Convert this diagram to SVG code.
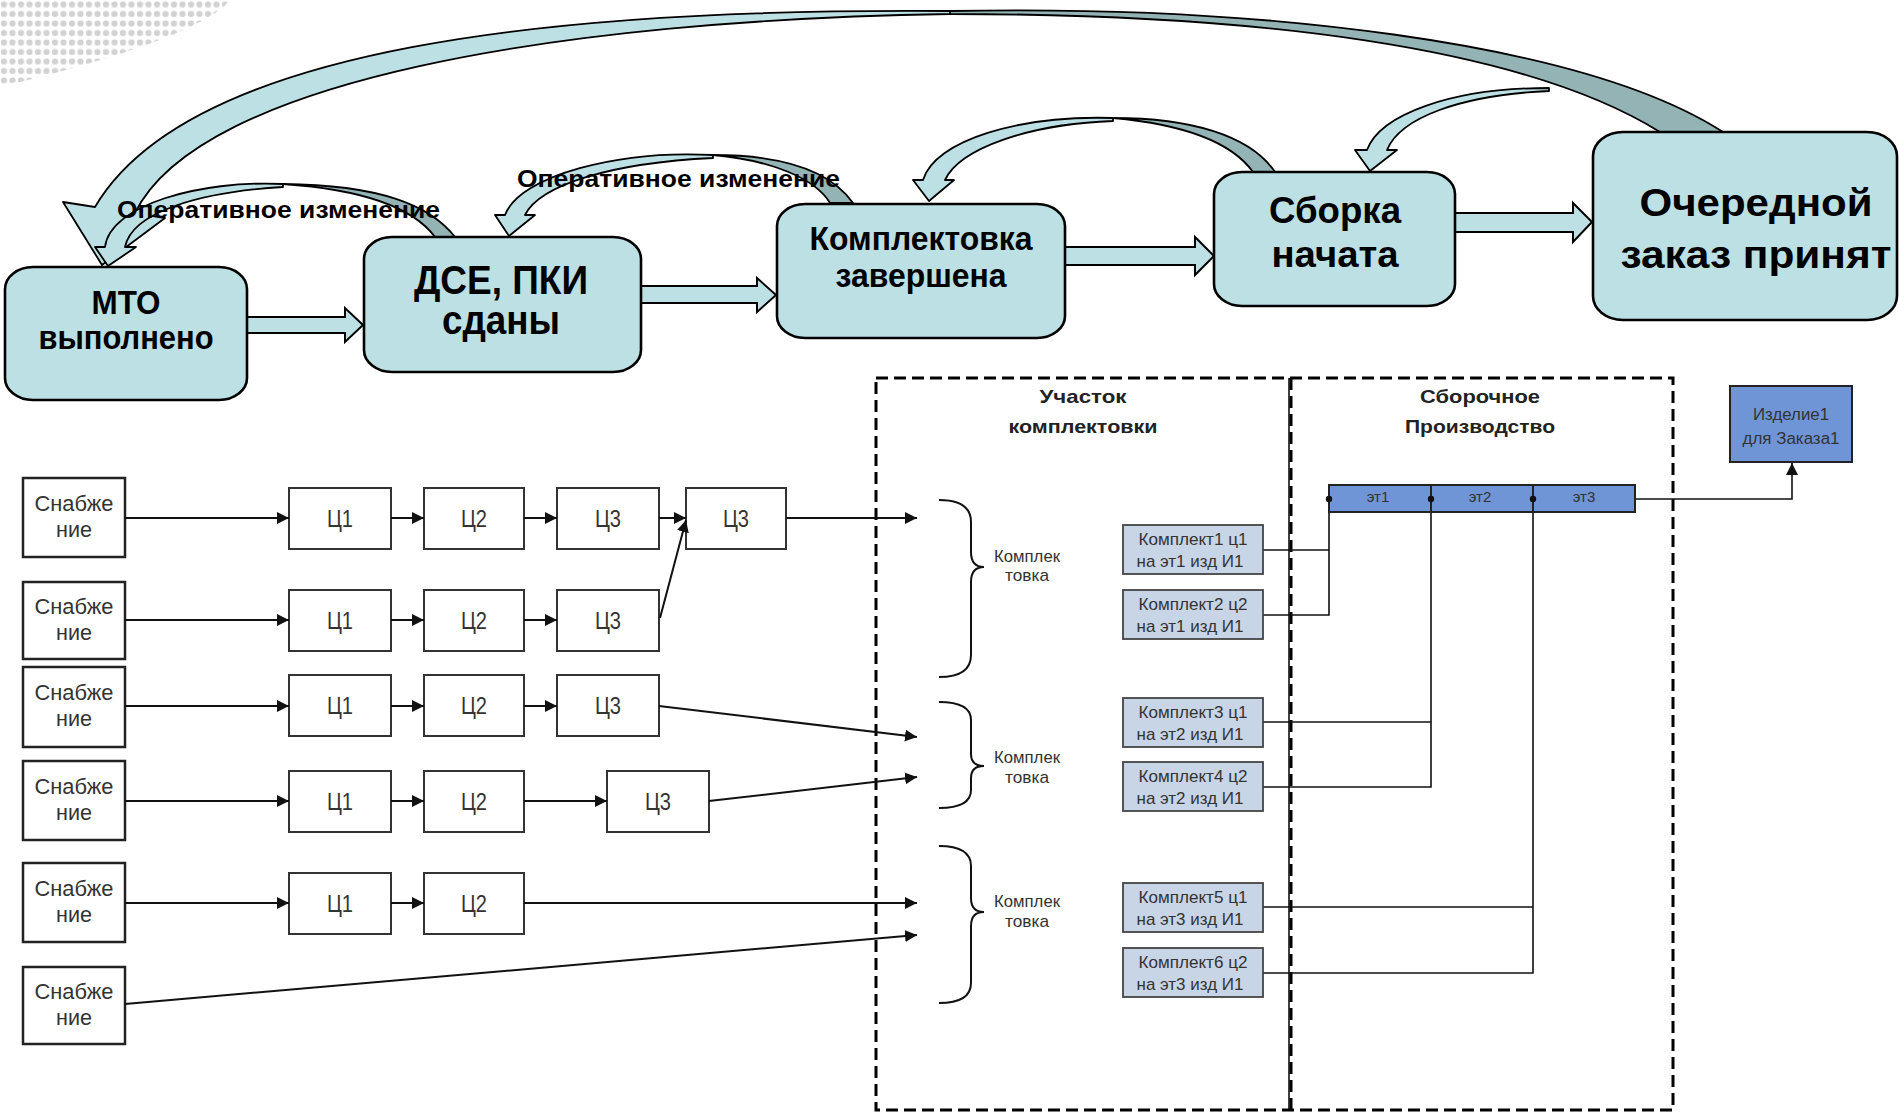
<svg xmlns="http://www.w3.org/2000/svg" width="1899" height="1117" viewBox="0 0 1899 1117">
<defs>
<style>
.node{fill:#bce0e4;stroke:#000;stroke-width:2.6}
.barr{fill:#bce0e4;stroke:#000;stroke-width:2}
.carr{fill:#bce0e4;stroke:#000;stroke-width:1.8;stroke-linejoin:round}
.cdark{fill:#93b3b4;stroke:#000;stroke-width:1.8;stroke-linejoin:round}
.big{font-family:"Liberation Sans",Arial,sans-serif;font-weight:bold;fill:#000;text-anchor:middle}
.lbl{font-family:"Liberation Sans",Arial,sans-serif;font-weight:bold;font-size:24px;fill:#000}
.sbox{fill:#fff;stroke:#222;stroke-width:2.5}
.cbox{fill:#fff;stroke:#333;stroke-width:2}
.sm{font-family:"Liberation Sans",Arial,sans-serif;fill:#333;text-anchor:middle}
.kbox{fill:#c8d5e7;stroke:#444;stroke-width:1.8}
.blue{fill:#6f95d6;stroke:#222;stroke-width:2}
.ln{fill:none;stroke:#111;stroke-width:2}
.ln2{fill:none;stroke:#111;stroke-width:1.6}
.dash{fill:none;stroke:#000;stroke-width:3;stroke-dasharray:12 6}
.hdr{font-family:"Liberation Sans",Arial,sans-serif;font-weight:bold;font-size:19px;fill:#222;text-anchor:middle}
</style>
<marker id="ah" viewBox="0 0 10 10" refX="10" refY="5" markerWidth="12" markerHeight="12" markerUnits="userSpaceOnUse" orient="auto"><path d="M0,0 L10,5 L0,10 z" fill="#111"/></marker>
<pattern id="dots" width="8.5" height="9.5" patternUnits="userSpaceOnUse"><circle cx="4" cy="4.5" r="3.1" fill="#d2d2d2"/></pattern>
</defs>
<rect width="1899" height="1117" fill="#fff"/>
<path d="M0,0 L230,0 C215,20 150,50 20,82 L0,84 Z" fill="url(#dots)"/>

<g id="curved-connectors">
<g id="arrow-zakaz-sborka"><path class="carr" d="M1549,88 C1450,88 1380,115 1367,150 L1355,150 L1370,171 L1397,150 L1387,150 C1400,118 1460,95 1549,91 Z"/></g>
<g id="arrow-zakaz-mto">
<path class="cdark" d="M950,11 C1250,5 1580,40 1723,132 L1660,132 C1520,45 1250,14 950,14 Z"/>
<path class="carr" d="M950,11 C560,8 190,45 95,207 L63,202 L102,265 L165,218 L135,213 C200,80 560,20 950,14 Z"/>
</g>
<g id="arrow-sborka-kompl">
<path class="cdark" d="M1275,172 C1250,135 1190,118 1113,118 C1180,124 1230,140 1253,172 Z"/>
<path class="carr" d="M1113,118 C1020,115 935,140 923,180 L913,180 L929,201 L954,180 L945,180 C960,148 1030,124 1113,121 Z"/>
</g>
<g id="arrow-kompl-dse">
<path class="cdark" d="M853,203 C830,170 780,155 713,155 C770,160 815,178 830,203 Z"/>
<path class="carr" d="M713,155 C620,150 520,175 505,215 L495,215 L509,236 L535,215 L525,215 C540,185 610,163 713,158 Z"/>
</g>
<g id="arrow-dse-mto">
<path class="cdark" d="M455,237 C430,205 380,185 283,184 C370,190 415,210 435,237 Z"/>
<path class="carr" d="M283,184 C200,180 110,205 105,247 L95,247 L108,266 L136,247 L125,247 C132,212 200,192 283,187 Z"/>
</g>
</g>

<g id="block-connectors">
<polygon class="barr" points="247,317 345,317 345,308 363,325 345,342 345,333 247,333"/>
<polygon class="barr" points="641,286 757,286 757,278 776,295 757,312 757,303 641,303"/>
<polygon class="barr" points="1065,247 1195,247 1195,237 1214,256 1195,275 1195,265 1065,265"/>
<polygon class="barr" points="1455,213 1573,213 1573,203 1592,222 1573,242 1573,232 1455,232"/>
</g>

<g id="node-mto"><rect class="node" x="5" y="267" width="242" height="133" rx="28" ry="22"/>
<text class="big" x="126" y="314" font-size="34" textLength="69" lengthAdjust="spacingAndGlyphs">МТО</text>
<text class="big" x="126" y="349" font-size="34" textLength="175" lengthAdjust="spacingAndGlyphs">выполнено</text></g>
<g id="node-dse"><rect class="node" x="364" y="237" width="277" height="135" rx="28" ry="22"/>
<text class="big" x="501" y="294" font-size="40" textLength="174" lengthAdjust="spacingAndGlyphs">ДСЕ, ПКИ</text>
<text class="big" x="501" y="334" font-size="40" textLength="118" lengthAdjust="spacingAndGlyphs">сданы</text></g>
<g id="node-kompl"><rect class="node" x="777" y="204" width="288" height="134" rx="28" ry="22"/>
<text class="big" x="921" y="250" font-size="33" textLength="223" lengthAdjust="spacingAndGlyphs">Комплектовка</text>
<text class="big" x="921" y="287" font-size="33" textLength="171" lengthAdjust="spacingAndGlyphs">завершена</text></g>
<g id="node-sborka"><rect class="node" x="1214" y="172" width="241" height="134" rx="28" ry="22"/>
<text class="big" x="1335" y="223" font-size="36" textLength="132" lengthAdjust="spacingAndGlyphs">Сборка</text>
<text class="big" x="1335" y="267" font-size="36" textLength="127" lengthAdjust="spacingAndGlyphs">начата</text></g>
<g id="node-zakaz"><rect class="node" x="1593" y="132" width="304" height="188" rx="30" ry="24"/>
<text class="big" x="1756" y="216" font-size="38" textLength="233" lengthAdjust="spacingAndGlyphs">Очередной</text>
<text class="big" x="1756" y="268" font-size="38" textLength="271" lengthAdjust="spacingAndGlyphs">заказ принят</text></g>

<g id="labels">
<text class="lbl" x="117" y="218" textLength="323" lengthAdjust="spacingAndGlyphs">Оперативное изменение</text>
<text class="lbl" x="517" y="187" textLength="323" lengthAdjust="spacingAndGlyphs">Оперативное изменение</text>
</g>

<g id="frame">
<rect class="dash" x="876" y="378" width="797" height="732"/>
<line x1="1289" y1="378" x2="1289" y2="1110" stroke="#000" stroke-width="1.5"/>
<line class="dash" x1="1291" y1="378" x2="1291" y2="1110"/>
<text class="hdr" x="1083" y="403" textLength="87" lengthAdjust="spacingAndGlyphs">Участок</text>
<text class="hdr" x="1083" y="433" textLength="149" lengthAdjust="spacingAndGlyphs">комплектовки</text>
<text class="hdr" x="1480" y="403" textLength="120" lengthAdjust="spacingAndGlyphs">Сборочное</text>
<text class="hdr" x="1480" y="433" textLength="150" lengthAdjust="spacingAndGlyphs">Производство</text>
</g>

<g id="supply-nodes">
<g id="snab1"><rect class="sbox" x="23" y="478" width="102" height="79"/><text class="sm" x="74" y="511" font-size="22" textLength="79" lengthAdjust="spacingAndGlyphs">Снабже</text><text class="sm" x="74" y="537" font-size="22" textLength="36" lengthAdjust="spacingAndGlyphs">ние</text></g>
<g id="snab2"><rect class="sbox" x="23" y="582" width="102" height="77"/><text class="sm" x="74" y="614" font-size="22" textLength="79" lengthAdjust="spacingAndGlyphs">Снабже</text><text class="sm" x="74" y="640" font-size="22" textLength="36" lengthAdjust="spacingAndGlyphs">ние</text></g>
<g id="snab3"><rect class="sbox" x="23" y="667" width="102" height="80"/><text class="sm" x="74" y="700" font-size="22" textLength="79" lengthAdjust="spacingAndGlyphs">Снабже</text><text class="sm" x="74" y="726" font-size="22" textLength="36" lengthAdjust="spacingAndGlyphs">ние</text></g>
<g id="snab4"><rect class="sbox" x="23" y="761" width="102" height="79"/><text class="sm" x="74" y="794" font-size="22" textLength="79" lengthAdjust="spacingAndGlyphs">Снабже</text><text class="sm" x="74" y="820" font-size="22" textLength="36" lengthAdjust="spacingAndGlyphs">ние</text></g>
<g id="snab5"><rect class="sbox" x="23" y="863" width="102" height="79"/><text class="sm" x="74" y="896" font-size="22" textLength="79" lengthAdjust="spacingAndGlyphs">Снабже</text><text class="sm" x="74" y="922" font-size="22" textLength="36" lengthAdjust="spacingAndGlyphs">ние</text></g>
<g id="snab6"><rect class="sbox" x="23" y="967" width="102" height="77"/><text class="sm" x="74" y="999" font-size="22" textLength="79" lengthAdjust="spacingAndGlyphs">Снабже</text><text class="sm" x="74" y="1025" font-size="22" textLength="36" lengthAdjust="spacingAndGlyphs">ние</text></g>
</g>

<g id="workshop-nodes">
<g id="r1c1"><rect class="cbox" x="289" y="488" width="102" height="61"/><text class="sm" x="340" y="527" font-size="23" textLength="26" lengthAdjust="spacingAndGlyphs">Ц1</text></g>
<g id="r1c2"><rect class="cbox" x="424" y="488" width="100" height="61"/><text class="sm" x="474" y="527" font-size="23" textLength="26" lengthAdjust="spacingAndGlyphs">Ц2</text></g>
<g id="r1c3"><rect class="cbox" x="557" y="488" width="102" height="61"/><text class="sm" x="608" y="527" font-size="23" textLength="26" lengthAdjust="spacingAndGlyphs">Ц3</text></g>
<g id="r1c4"><rect class="cbox" x="686" y="488" width="100" height="61"/><text class="sm" x="736" y="527" font-size="23" textLength="26" lengthAdjust="spacingAndGlyphs">Ц3</text></g>
<g id="r2c1"><rect class="cbox" x="289" y="590" width="102" height="61"/><text class="sm" x="340" y="629" font-size="23" textLength="26" lengthAdjust="spacingAndGlyphs">Ц1</text></g>
<g id="r2c2"><rect class="cbox" x="424" y="590" width="100" height="61"/><text class="sm" x="474" y="629" font-size="23" textLength="26" lengthAdjust="spacingAndGlyphs">Ц2</text></g>
<g id="r2c3"><rect class="cbox" x="557" y="590" width="102" height="61"/><text class="sm" x="608" y="629" font-size="23" textLength="26" lengthAdjust="spacingAndGlyphs">Ц3</text></g>
<g id="r3c1"><rect class="cbox" x="289" y="675" width="102" height="61"/><text class="sm" x="340" y="714" font-size="23" textLength="26" lengthAdjust="spacingAndGlyphs">Ц1</text></g>
<g id="r3c2"><rect class="cbox" x="424" y="675" width="100" height="61"/><text class="sm" x="474" y="714" font-size="23" textLength="26" lengthAdjust="spacingAndGlyphs">Ц2</text></g>
<g id="r3c3"><rect class="cbox" x="557" y="675" width="102" height="61"/><text class="sm" x="608" y="714" font-size="23" textLength="26" lengthAdjust="spacingAndGlyphs">Ц3</text></g>
<g id="r4c1"><rect class="cbox" x="289" y="771" width="102" height="61"/><text class="sm" x="340" y="810" font-size="23" textLength="26" lengthAdjust="spacingAndGlyphs">Ц1</text></g>
<g id="r4c2"><rect class="cbox" x="424" y="771" width="100" height="61"/><text class="sm" x="474" y="810" font-size="23" textLength="26" lengthAdjust="spacingAndGlyphs">Ц2</text></g>
<g id="r4c3"><rect class="cbox" x="607" y="771" width="102" height="61"/><text class="sm" x="658" y="810" font-size="23" textLength="26" lengthAdjust="spacingAndGlyphs">Ц3</text></g>
<g id="r5c1"><rect class="cbox" x="289" y="873" width="102" height="61"/><text class="sm" x="340" y="912" font-size="23" textLength="26" lengthAdjust="spacingAndGlyphs">Ц1</text></g>
<g id="r5c2"><rect class="cbox" x="424" y="873" width="100" height="61"/><text class="sm" x="474" y="912" font-size="23" textLength="26" lengthAdjust="spacingAndGlyphs">Ц2</text></g>
</g>

<g id="flow-connectors" class="ln" marker-end="url(#ah)">
<line x1="125" y1="518" x2="289" y2="518"/><line x1="391" y1="518" x2="424" y2="518"/><line x1="524" y1="518" x2="557" y2="518"/><line x1="659" y1="518" x2="686" y2="518"/><line x1="786" y1="518" x2="917" y2="518"/>
<line x1="125" y1="620" x2="289" y2="620"/><line x1="391" y1="620" x2="424" y2="620"/><line x1="524" y1="620" x2="557" y2="620"/><line x1="660" y1="618" x2="686" y2="520"/>
<line x1="125" y1="706" x2="289" y2="706"/><line x1="391" y1="706" x2="424" y2="706"/><line x1="524" y1="706" x2="557" y2="706"/><line x1="659" y1="706" x2="917" y2="737"/>
<line x1="125" y1="801" x2="289" y2="801"/><line x1="391" y1="801" x2="424" y2="801"/><line x1="524" y1="801" x2="607" y2="801"/><line x1="709" y1="801" x2="917" y2="777"/>
<line x1="125" y1="903" x2="289" y2="903"/><line x1="391" y1="903" x2="424" y2="903"/><line x1="524" y1="903" x2="917" y2="903"/>
<line x1="125" y1="1004" x2="917" y2="935"/>
</g>

<g id="braces" class="ln">
<path d="M939,500 Q971,500 971,522 L971,552 Q971,567 984,567 Q971,567 971,582 L971,655 Q971,677 939,677"/>
<path d="M939,702 Q971,702 971,720 L971,754 Q971,766 984,766 Q971,766 971,778 L971,790 Q971,808 939,808"/>
<path d="M939,846 Q971,846 971,866 L971,898 Q971,912 984,912 Q971,912 971,926 L971,983 Q971,1003 939,1003"/>
<text class="sm" x="1027" y="562" font-size="17" textLength="66" lengthAdjust="spacingAndGlyphs" stroke="none" fill="#222">Комплек</text>
<text class="sm" x="1027" y="581" font-size="17" textLength="44" lengthAdjust="spacingAndGlyphs" stroke="none" fill="#222">товка</text>
<text class="sm" x="1027" y="763" font-size="17" textLength="66" lengthAdjust="spacingAndGlyphs" stroke="none" fill="#222">Комплек</text>
<text class="sm" x="1027" y="783" font-size="17" textLength="44" lengthAdjust="spacingAndGlyphs" stroke="none" fill="#222">товка</text>
<text class="sm" x="1027" y="907" font-size="17" textLength="66" lengthAdjust="spacingAndGlyphs" stroke="none" fill="#222">Комплек</text>
<text class="sm" x="1027" y="927" font-size="17" textLength="44" lengthAdjust="spacingAndGlyphs" stroke="none" fill="#222">товка</text>
</g>

<g id="kit-connectors" class="ln2">
<polyline points="1263,550 1329,550"/><polyline points="1263,615 1329,615 1329,512"/>
<polyline points="1263,722 1431,722"/><polyline points="1263,787 1431,787 1431,512"/>
<polyline points="1263,907 1533,907"/><polyline points="1263,973 1533,973 1533,512"/>
<polyline points="1635,499 1792,499 1792,463" marker-end="url(#ah)"/>
</g>

<g id="kit-nodes">
<g id="kit1"><rect class="kbox" x="1123" y="525" width="140" height="49"/><text class="sm" x="1193" y="545" font-size="17" textLength="109" lengthAdjust="spacingAndGlyphs" fill="#222">Комплект1 ц1</text><text class="sm" x="1190" y="567" font-size="17" textLength="107" lengthAdjust="spacingAndGlyphs" fill="#222">на эт1 изд И1</text></g>
<g id="kit2"><rect class="kbox" x="1123" y="590" width="140" height="49"/><text class="sm" x="1193" y="610" font-size="17" textLength="109" lengthAdjust="spacingAndGlyphs" fill="#222">Комплект2 ц2</text><text class="sm" x="1190" y="632" font-size="17" textLength="107" lengthAdjust="spacingAndGlyphs" fill="#222">на эт1 изд И1</text></g>
<g id="kit3"><rect class="kbox" x="1123" y="698" width="140" height="49"/><text class="sm" x="1193" y="718" font-size="17" textLength="109" lengthAdjust="spacingAndGlyphs" fill="#222">Комплект3 ц1</text><text class="sm" x="1190" y="740" font-size="17" textLength="107" lengthAdjust="spacingAndGlyphs" fill="#222">на эт2 изд И1</text></g>
<g id="kit4"><rect class="kbox" x="1123" y="762" width="140" height="49"/><text class="sm" x="1193" y="782" font-size="17" textLength="109" lengthAdjust="spacingAndGlyphs" fill="#222">Комплект4 ц2</text><text class="sm" x="1190" y="804" font-size="17" textLength="107" lengthAdjust="spacingAndGlyphs" fill="#222">на эт2 изд И1</text></g>
<g id="kit5"><rect class="kbox" x="1123" y="883" width="140" height="49"/><text class="sm" x="1193" y="903" font-size="17" textLength="109" lengthAdjust="spacingAndGlyphs" fill="#222">Комплект5 ц1</text><text class="sm" x="1190" y="925" font-size="17" textLength="107" lengthAdjust="spacingAndGlyphs" fill="#222">на эт3 изд И1</text></g>
<g id="kit6"><rect class="kbox" x="1123" y="948" width="140" height="49"/><text class="sm" x="1193" y="968" font-size="17" textLength="109" lengthAdjust="spacingAndGlyphs" fill="#222">Комплект6 ц2</text><text class="sm" x="1190" y="990" font-size="17" textLength="107" lengthAdjust="spacingAndGlyphs" fill="#222">на эт3 изд И1</text></g>
</g>

<g id="stage-bar">
<rect class="blue" x="1329" y="485" width="306" height="27"/>
<line x1="1431" y1="485" x2="1431" y2="512" stroke="#222" stroke-width="2"/>
<line x1="1533" y1="485" x2="1533" y2="512" stroke="#222" stroke-width="2"/>
<circle cx="1329" cy="499" r="3.2" fill="#111"/><circle cx="1431" cy="499" r="3.2" fill="#111"/><circle cx="1533" cy="499" r="3.2" fill="#111"/>
<text class="sm" x="1378" y="502" font-size="15" fill="#222">эт1</text>
<text class="sm" x="1480" y="502" font-size="15" fill="#222">эт2</text>
<text class="sm" x="1584" y="502" font-size="15" fill="#222">эт3</text>
</g>

<g id="node-izdelie"><rect class="blue" x="1730" y="386" width="122" height="76"/>
<text class="sm" x="1791" y="420" font-size="16" textLength="76" lengthAdjust="spacingAndGlyphs" fill="#222">Изделие1</text>
<text class="sm" x="1791" y="444" font-size="16" textLength="97" lengthAdjust="spacingAndGlyphs" fill="#222">для Заказа1</text></g>
</svg>
